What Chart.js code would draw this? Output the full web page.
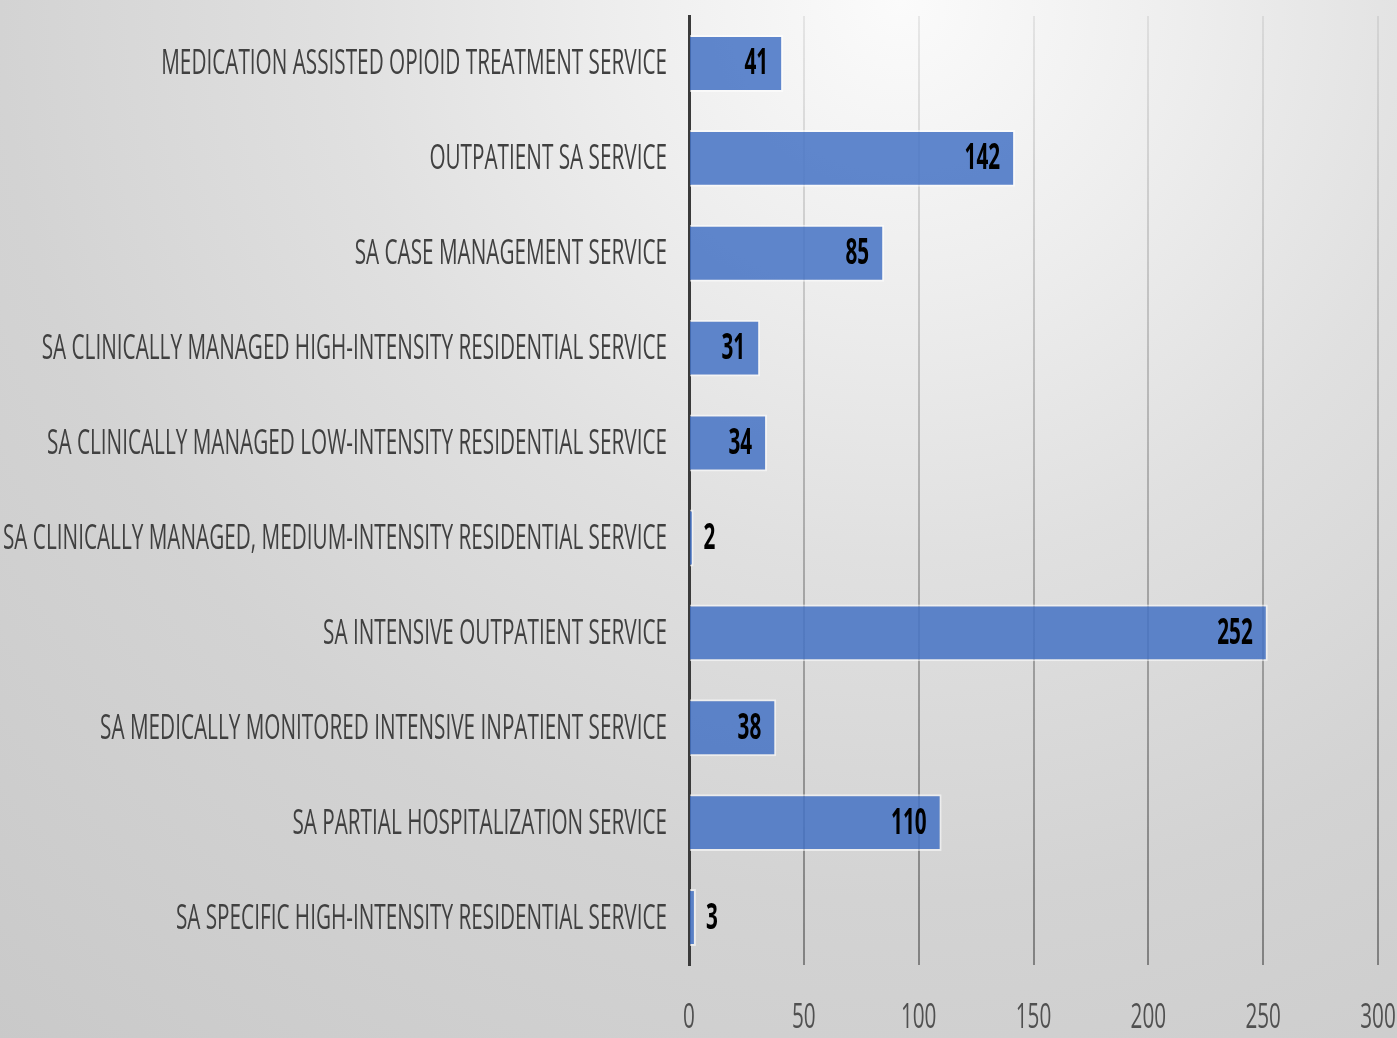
<!DOCTYPE html>
<html>
<head>
<meta charset="utf-8">
<title>SA services</title>
<script src="https://cdn.jsdelivr.net/npm/chart.js@4.4.1/dist/chart.umd.min.js"></script>
<style>
  html, body { margin: 0; padding: 0; }
  body {
    width: 1397px;
    height: 1038px;
    overflow: hidden;
    background: radial-gradient(circle at 900px 0px, #fbfbfb 0px, #eeeeee 280px, #e0e0e0 560px, #d3d3d3 900px, #c9c9c9 1380px);
  }
  #chartBox { position: relative; width: 1397px; height: 1038px; }
</style>
</head>
<body>
<div id="chartBox"><canvas id="servicesChart"></canvas></div>
<script>
const serviceLabels = [
  "MEDICATION ASSISTED OPIOID TREATMENT SERVICE",
  "OUTPATIENT SA SERVICE",
  "SA CASE MANAGEMENT SERVICE",
  "SA CLINICALLY MANAGED HIGH-INTENSITY RESIDENTIAL SERVICE",
  "SA CLINICALLY MANAGED LOW-INTENSITY RESIDENTIAL SERVICE",
  "SA CLINICALLY MANAGED, MEDIUM-INTENSITY RESIDENTIAL SERVICE",
  "SA INTENSIVE OUTPATIENT SERVICE",
  "SA MEDICALLY MONITORED INTENSIVE INPATIENT SERVICE",
  "SA PARTIAL HOSPITALIZATION SERVICE",
  "SA SPECIFIC HIGH-INTENSITY RESIDENTIAL SERVICE"
];
const serviceCounts = [41, 142, 85, 31, 34, 2, 252, 38, 110, 3];
const xTickValues = [0, 50, 100, 150, 200, 250, 300];

const FONT = '"Open Sans", "Liberation Sans", sans-serif';

// draw text squeezed horizontally (the original uses a very narrow font)
function drawNarrow(ctx, text, x, y, align, squeeze) {
  ctx.save();
  ctx.translate(x, y);
  ctx.scale(squeeze, 1);
  ctx.textAlign = align;
  ctx.textBaseline = "middle";
  ctx.fillText(text, 0, 0);
  ctx.restore();
}

const narrowText = {
  id: "narrowText",
  afterDatasetsDraw(chart) {
    const ctx = chart.ctx;
    const xScale = chart.scales.x;
    const yScale = chart.scales.y;

    // category labels
    ctx.font = "35px " + FONT;
    ctx.fillStyle = "#404040";
    const longest = serviceLabels.reduce((a, b) => ctx.measureText(a).width > ctx.measureText(b).width ? a : b);
    const labelSqueeze = 664 / ctx.measureText(longest).width;
    serviceLabels.forEach((label, i) => {
      drawNarrow(ctx, label, yScale.right - 22, yScale.getPixelForTick(i) + 1, "right", labelSqueeze);
    });

    // value axis labels
    ctx.fillStyle = "#505050";
    xTickValues.forEach(v => {
      drawNarrow(ctx, String(v), xScale.getPixelForValue(v), xScale.top + 53, "center", labelSqueeze);
    });

    // data labels
    ctx.font = "bold 35px " + FONT;
    ctx.fillStyle = "#000000";
    const meta = chart.getDatasetMeta(0);
    meta.data.forEach((bar, i) => {
      const txt = String(serviceCounts[i]);
      if (bar.x - bar.base > 40) {
        drawNarrow(ctx, txt, bar.x - 15, bar.y + 1, "right", labelSqueeze);
      } else {
        drawNarrow(ctx, txt, bar.x + 10, bar.y + 1, "left", labelSqueeze);
      }
    });
  }
};

function gridShade(context) {
  const chart = context.chart;
  const area = chart.chartArea;
  if (!area) return "rgba(0,0,0,0.2)";
  const g = chart.ctx.createLinearGradient(0, area.top, 0, area.bottom);
  g.addColorStop(0, "rgba(0,0,0,0.07)");
  g.addColorStop(1, "rgba(0,0,0,0.38)");
  return g;
}

new Chart(document.getElementById("servicesChart"), {
  type: "bar",
  data: {
    labels: serviceLabels,
    datasets: [{
      data: serviceCounts,
      backgroundColor: "rgba(68,114,196,0.85)",
      borderColor: "rgba(255,255,255,0.55)",
      borderWidth: 2,
      categoryPercentage: 0.6,
      barPercentage: 1
    }]
  },
  options: {
    indexAxis: "y",
    responsive: true,
    maintainAspectRatio: false,
    animation: false,
    layout: { padding: { top: 16, right: 19, left: 0, bottom: 0 } },
    plugins: {
      legend: { display: false },
      tooltip: { enabled: false }
    },
    scales: {
      x: {
        min: 0,
        max: 300,
        ticks: { display: false, stepSize: 50 },
        grid: { color: gridShade, lineWidth: 2, drawTicks: false },
        border: { display: false },
        afterFit(scale) { scale.height = 73; }
      },
      y: {
        ticks: { display: false },
        grid: { display: false },
        border: { display: true, color: "#3a3a3a", width: 3 },
        afterFit(scale) { scale.width = 689; }
      }
    }
  },
  plugins: [narrowText]
});
</script>
</body>
</html>
